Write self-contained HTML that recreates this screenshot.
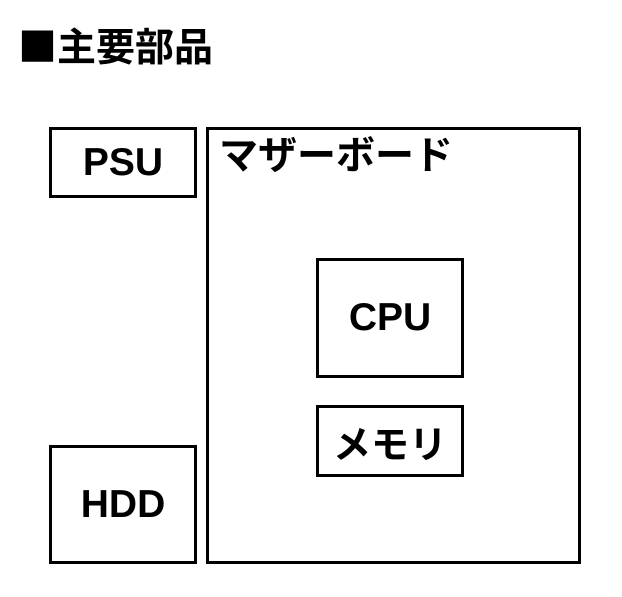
<!DOCTYPE html>
<html><head><meta charset="utf-8"><style>
html,body{margin:0;padding:0;background:#fff;width:622px;height:597px;overflow:hidden}
body{position:relative;font-family:"Liberation Sans","Noto Sans CJK JP",sans-serif;font-weight:bold;color:#000}
.b{position:absolute;box-sizing:border-box;border:3px solid #000;display:flex;align-items:center;justify-content:center;font-size:39px}
.t{position:absolute;font-family:"Noto Sans CJK JP",sans-serif;white-space:nowrap;line-height:1}
</style></head><body>
<div class="t" style="left:18px;top:26px;font-size:39px">■主要部品</div>
<div class="b" style="left:49px;top:127px;width:148px;height:71px">PSU</div>
<div class="b" style="left:206px;top:127px;width:375px;height:437px"></div>
<div class="t" style="left:219px;top:134px;font-size:39px">マザーボード</div>
<div class="b" style="left:316px;top:258px;width:148px;height:120px">CPU</div>
<div class="b" style="left:316px;top:405px;width:148px;height:72px;font-size:38px;font-family:'Noto Sans CJK JP',sans-serif">メモリ</div>
<div class="b" style="left:49px;top:445px;width:148px;height:119px">HDD</div>
</body></html>
